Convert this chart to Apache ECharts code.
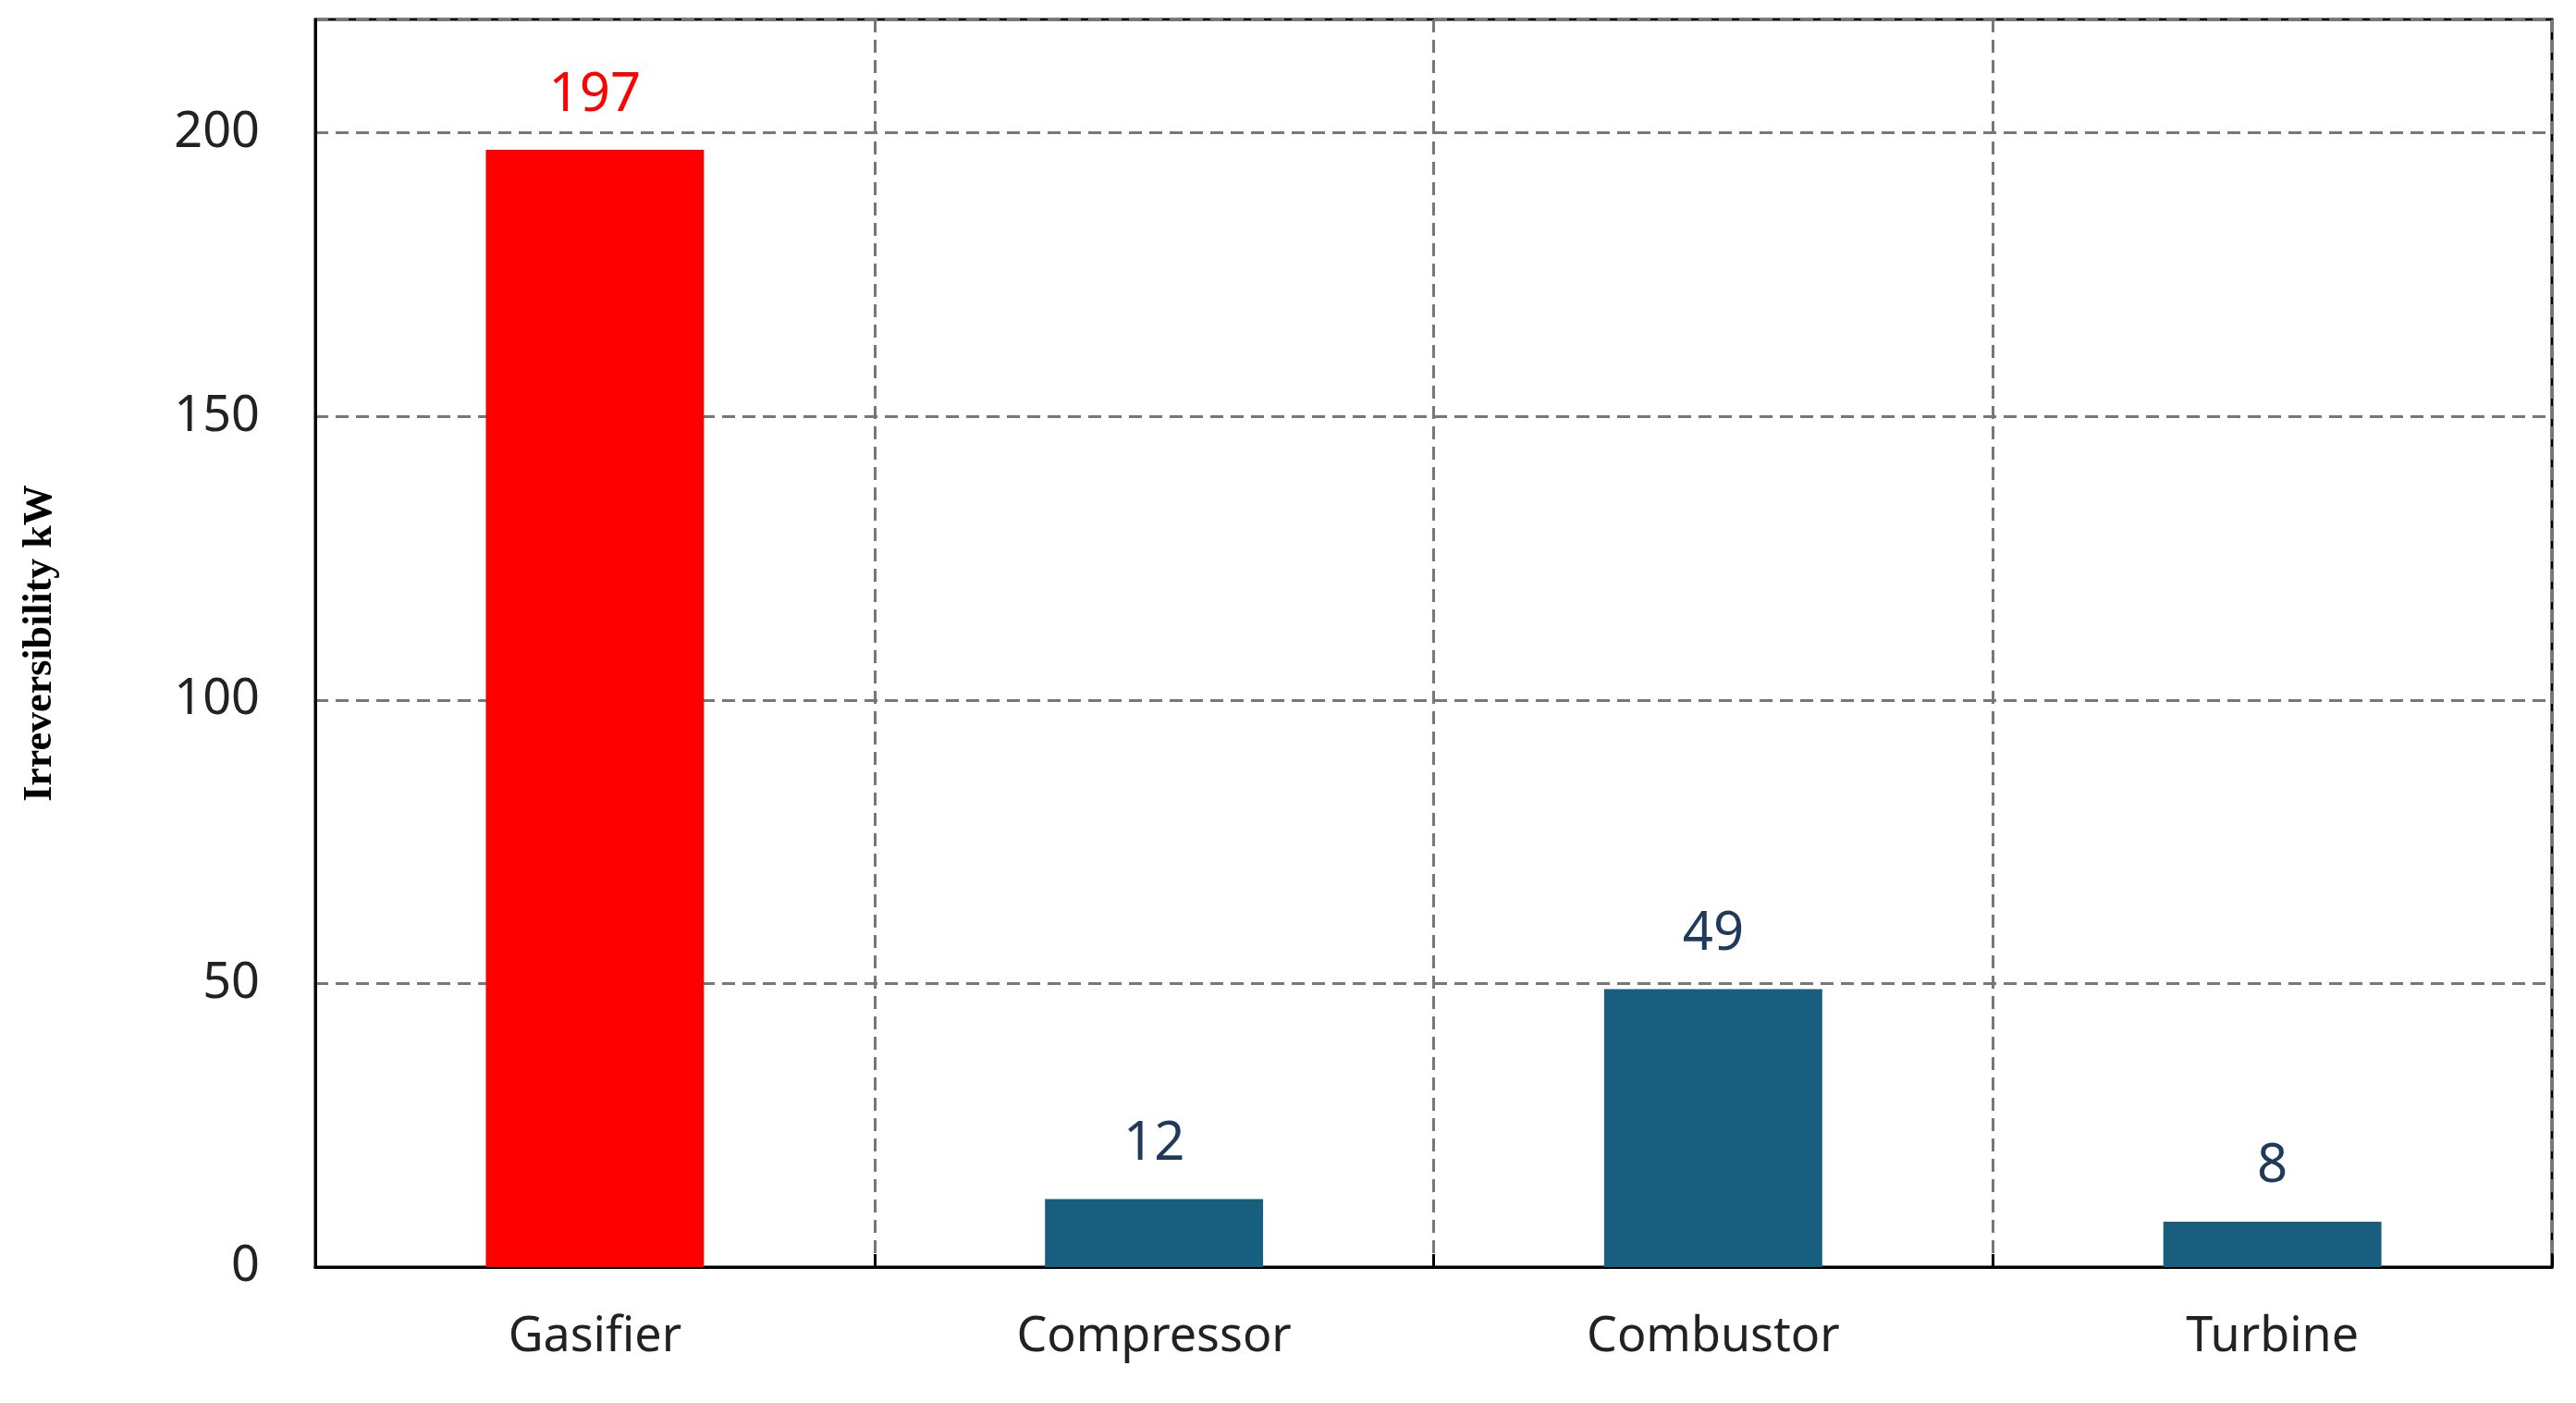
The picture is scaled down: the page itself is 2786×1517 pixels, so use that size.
<!DOCTYPE html>
<html>
<head>
<meta charset="utf-8">
<script src="https://cdn.jsdelivr.net/npm/echarts@6/dist/echarts.min.js"></script>
<style>html,body{margin:0;padding:0;background:#fff}#main{width:2786px;height:1517px}</style>
</head>
<body>
<div id="main"></div>
<script>
var categories = ['Gasifier', 'Compressor', 'Combustor', 'Turbine'];
var values = [197, 12, 49, 8];
var barColors = ['#ff0000', '#175e7f', '#175e7f', '#175e7f'];
var labelColors = ['#ff0000', '#1f3a5a', '#1f3a5a', '#1f3a5a'];

var data = [];
for (var i = 0; i < values.length; i++) {
	data.push({
		value: values[i],
		itemStyle: { color: barColors[i] },
		label: { color: labelColors[i] }
	});
}

var myChart = echarts.init(document.getElementById('main'));
var option = {
	animation: false,
	grid: { left: 341, right: 26, top: 21, bottom: 147, show: true, borderColor: '#000', borderWidth: 3 },
	xAxis: {
		type: 'category',
		data: categories,
		axisLine: { lineStyle: { color: '#000', width: 3 } },
		axisTick: { show: true, inside: true, length: 14, lineStyle: { color: '#000', width: 3 } },
		axisLabel: { fontSize: 52, color: '#222', margin: 50, fontFamily: 'Noto Sans' },
		splitLine: { show: true, lineStyle: { color: '#777', width: 3, type: [14, 8] } }
	},
	yAxis: {
		type: 'value',
		min: 0, max: 220, interval: 50,
		name: 'Irreversibility kW',
		nameLocation: 'middle',
		nameGap: 275,
		nameTextStyle: { fontSize: 44, fontWeight: 'bold', fontFamily: 'Liberation Serif', color: '#000' },
		axisLine: { show: true, lineStyle: { color: '#000', width: 3 } },
		axisTick: { show: false },
		axisLabel: { fontSize: 54, color: '#222', margin: 60, fontFamily: 'Noto Sans', showMaxLabel: false },
		splitLine: { show: true, lineStyle: { color: '#777', width: 3, type: [14, 8] } }
	},
	series: [{
		type: 'bar',
		data: data,
		barWidth: '39%',
		label: { show: true, position: 'top', distance: 30, fontSize: 58, fontFamily: 'Noto Sans' }
	}]
};
myChart.setOption(option);
</script>
</body>
</html>
